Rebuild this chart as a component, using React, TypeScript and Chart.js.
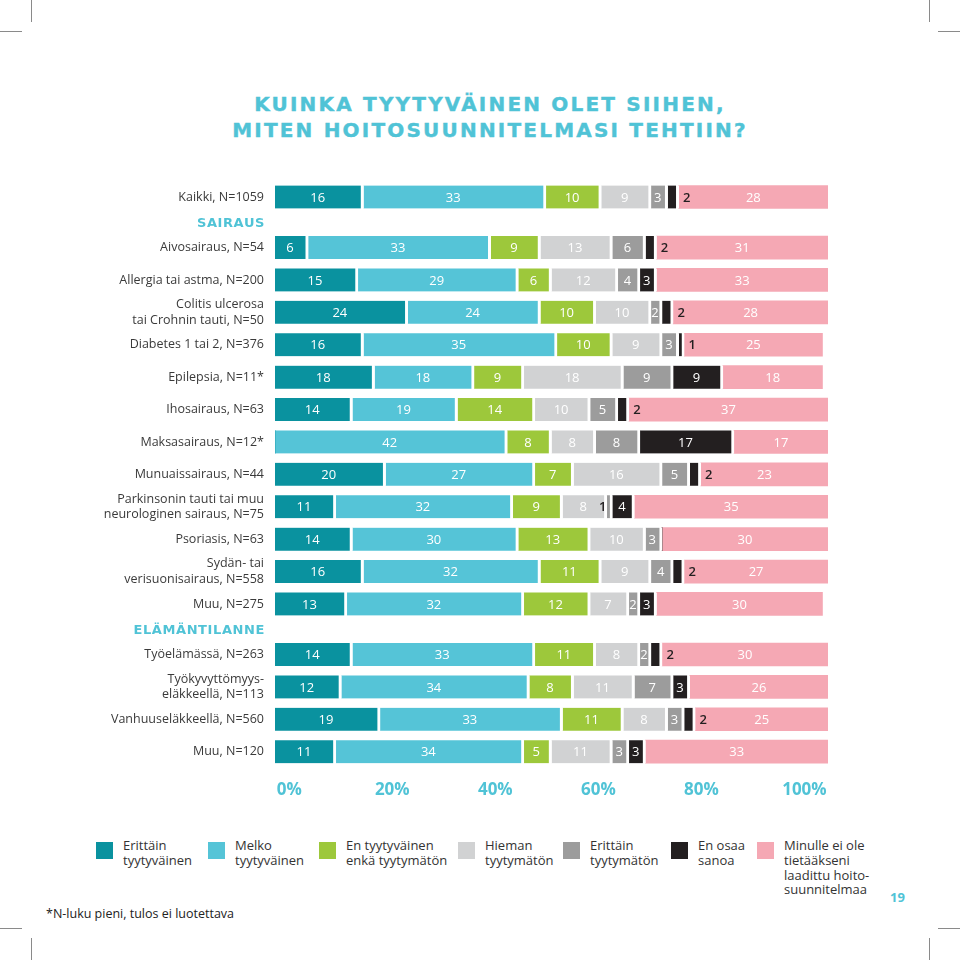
import React, { useEffect, useRef } from "react";
import { Chart, registerables } from "chart.js";

Chart.register(...registerables);

// ---------- DATA ----------
const categories = [
  "Kaikki, N=1059",
  "Aivosairaus, N=54",
  "Allergia tai astma, N=200",
  "Colitis ulcerosa\ntai Crohnin tauti, N=50",
  "Diabetes 1 tai 2, N=376",
  "Epilepsia, N=11*",
  "Ihosairaus, N=63",
  "Maksasairaus, N=12*",
  "Munuaissairaus, N=44",
  "Parkinsonin tauti tai muu\nneurologinen sairaus, N=75",
  "Psoriasis, N=63",
  "Sydän- tai\nverisuonisairaus, N=558",
  "Muu, N=275",
  "Työelämässä, N=263",
  "Työkyvyttömyys-\neläkkeellä, N=113",
  "Vanhuuseläkkeellä, N=560",
  "Muu, N=120",
];

// group headings: shown before the category with index `before`
const groupHeaders = [
  { before: 1, label: "SAIRAUS" },
  { before: 13, label: "ELÄMÄNTILANNE" },
];

const seriesNames = [
  "Erittäin\ntyytyväinen",
  "Melko\ntyytyväinen",
  "En tyytyväinen\nenkä tyytymätön",
  "Hieman\ntyytymätön",
  "Erittäin\ntyytymätön",
  "En osaa\nsanoa",
  "Minulle ei ole\ntietääkseni\nlaadittu hoito-\nsuunnitelmaa",
];

const erittainTyytyvainen = [16, 6, 15, 24, 16, 18, 14, 0, 20, 11, 14, 16, 13, 14, 12, 19, 11];
const melkoTyytyvainen = [33, 33, 29, 24, 35, 18, 19, 42, 27, 32, 30, 32, 32, 33, 34, 33, 34];
const eiTyytyvainenEikaTyytymaton = [10, 9, 6, 10, 10, 9, 14, 8, 7, 9, 13, 11, 12, 11, 8, 11, 5];
const hiemanTyytymaton = [9, 13, 12, 10, 9, 18, 10, 8, 16, 8, 10, 9, 7, 8, 11, 8, 11];
const erittainTyytymaton = [3, 6, 4, 2, 3, 9, 5, 8, 5, 1, 3, 4, 2, 2, 7, 3, 3];
const enOsaaSanoa = [2, 2, 3, 2, 1, 9, 2, 17, 2, 4, 0, 2, 3, 2, 3, 2, 3];
const eiSuunnitelmaa = [28, 31, 33, 28, 25, 18, 37, 17, 23, 35, 30, 27, 30, 30, 26, 25, 33];

const seriesValues = [
  erittainTyytyvainen,
  melkoTyytyvainen,
  eiTyytyvainenEikaTyytymaton,
  hiemanTyytymaton,
  erittainTyytymaton,
  enOsaaSanoa,
  eiSuunnitelmaa,
];

const xTickValues = [0, 20, 40, 60, 80, 100];

// ---------- STYLE ----------
const seriesColors = ["#0a929f", "#55c4d7", "#9dc83b", "#d1d2d3", "#9c9c9c", "#231f20", "#f5a8b4"];
// where a label goes when its segment is too small
const smallLabelRule: (null | { max: number; side: "left" | "right" })[] = [
  null, null, null, null, { max: 1, side: "left" }, { max: 2, side: "right" }, null,
];
const CYAN = "#50c3d6";
const TEXT = "#3a3a3a";
const FONT = "'Open Sans', 'DejaVu Sans', sans-serif";
const HEAVY = "'DejaVu Sans', 'Open Sans', sans-serif";
const GAP = 3;
const HEADER_GAP = 0.56;
const Y_LABEL_PAD = 11;
const LEGEND_X = [96, 208, 319, 458, 563, 671, 757];

// row positions on the (linear) category axis
const rowPositions = categories.map(
  (_, i) => i + HEADER_GAP * groupHeaders.filter((h) => h.before <= i).length
);
const headerPositions = groupHeaders.map((h) => {
  const prev = rowPositions[h.before - 1];
  const next = rowPositions[h.before];
  return prev + (next - prev) * 0.52;
});
const findRow = (v: number) =>
  rowPositions.reduce((best, p, i) => (Math.abs(p - v) < Math.abs(rowPositions[best] - v) ? i : best), 0);

const barLabels = {
  id: "barLabels",
  afterDatasetsDraw(chart: any) {
    const { ctx, chartArea } = chart;
    ctx.save();
    ctx.textAlign = "center";
    ctx.textBaseline = "middle";
    chart.data.datasets.forEach((ds: any, di: number) => {
      const meta = chart.getDatasetMeta(di);
      const last = di === chart.data.datasets.length - 1;
      meta.data.forEach((el: any, i: number) => {
        const v = seriesValues[di][i];
        if (!v) return;
        const { x, base, y } = el.getProps(["x", "base", "y"], true);
        const left = Math.min(x, base);
        const right = Math.min(Math.max(x, base), chartArea.right) - (last ? 0 : GAP);
        const rule = smallLabelRule[di];
        if (rule && v <= rule.max) {
          ctx.font = `600 13px ${FONT}`;
          ctx.fillStyle = "#231f20";
          const px = rule.side === "right" ? right + GAP + 8 : left - 4;
          ctx.fillText(String(v), px, y + 1);
        } else {
          ctx.font = `13px ${FONT}`;
          ctx.fillStyle = "#ffffff";
          ctx.fillText(String(v), (left + right) / 2, y + 1);
        }
      });
    });
    ctx.restore();
  },
};

const groupHeaderLabels = {
  id: "groupHeaderLabels",
  afterDraw(chart: any) {
    const { ctx } = chart;
    const ys = chart.scales.y;
    ctx.save();
    ctx.font = `bold 13px ${HEAVY}`;
    (ctx as any).letterSpacing = "0.6px";
    ctx.fillStyle = CYAN;
    ctx.textAlign = "right";
    ctx.textBaseline = "middle";
    headerPositions.forEach((p, i) => {
      ctx.fillText(groupHeaders[i].label, ys.right - Y_LABEL_PAD + 1, ys.getPixelForValue(p));
    });
    ctx.restore();
  },
};

export default function App() {
  const ref = useRef<HTMLCanvasElement>(null);

  useEffect(() => {
    const lastPos = rowPositions[rowPositions.length - 1];
    const chart = new Chart(ref.current as HTMLCanvasElement, {
      type: "bar",
      data: {
        datasets: seriesValues.map((vals, di) => ({
          label: seriesNames[di].replace(/\n/g, " "),
          data: vals.map((v, i) => ({ x: v, y: rowPositions[i] })),
          backgroundColor: seriesColors[di],
          borderColor: "#ffffff",
          borderWidth: di === seriesValues.length - 1 ? 0 : { left: 0, top: 0, bottom: 0, right: GAP },
          borderSkipped: false,
          barThickness: 23,
          stack: "all",
          clip: 0,
        })) as any,
      },
      options: {
        indexAxis: "y",
        animation: false,
        responsive: false,
        maintainAspectRatio: false,
        layout: { autoPadding: false, padding: { top: 10, right: 132, bottom: 0, left: 0 } },
        plugins: { legend: { display: false }, tooltip: { enabled: false } },
        scales: {
          x: { type: "linear", stacked: true, min: 0, max: 100, display: false },
          xt: {
            type: "linear",
            axis: "x",
            position: "bottom",
            display: true,
            offset: false,
            min: -2.76,
            max: 104.58,
            afterBuildTicks: (s: any) => {
              s.ticks = xTickValues.map((v) => ({ value: v }));
            },
            afterFit: (s: any) => {
              s.height = 40;
              s.paddingLeft = 0;
              s.paddingRight = 0;
              s.paddingTop = 0;
              s.paddingBottom = 0;
            },
            grid: { display: false, drawTicks: false },
            border: { display: false },
            ticks: {
              autoSkip: false,
              maxRotation: 0,
              padding: 10,
              color: CYAN,
              font: { family: FONT, size: 17, weight: "bold" },
              callback: (v: any) => `${v}%`,
            },
          },
          y: {
            type: "linear",
            reverse: true,
            offset: false,
            min: -0.525,
            max: lastPos + 0.565,
            afterBuildTicks: (s: any) => {
              s.ticks = rowPositions.map((v) => ({ value: v }));
            },
            afterFit: (s: any) => {
              s.width = 275;
              s.paddingTop = 0;
              s.paddingBottom = 0;
              s.paddingLeft = 0;
              s.paddingRight = 0;
            },
            grid: { display: false, drawTicks: false, offset: false },
            border: { display: false },
            ticks: {
              autoSkip: false,
              padding: Y_LABEL_PAD,
              color: TEXT,
              callback: (v: any) => categories[findRow(Number(v))].split("\n"),
              font: { family: FONT, size: 12.5, weight: "normal", lineHeight: 1.25 },
            },
          },
        },
      } as any,
      plugins: [barLabels, groupHeaderLabels],
    });
    return () => chart.destroy();
  }, []);

  const mark = (s: React.CSSProperties) => (
    <div style={{ position: "absolute", background: "#8a8a8a", ...s }} />
  );

  return (
    <div
      style={{
        position: "fixed",
        left: 0,
        top: 0,
        width: 960,
        height: 960,
        background: "#fff",
        overflow: "hidden",
        fontFamily: FONT,
        color: TEXT,
      }}
    >
      {mark({ left: 31, top: 0, width: 1, height: 22 })}
      {mark({ left: 0, top: 31, width: 22, height: 1 })}
      {mark({ left: 929, top: 0, width: 1, height: 22 })}
      {mark({ left: 938, top: 31, width: 22, height: 1 })}
      {mark({ left: 31, top: 938, width: 1, height: 22 })}
      {mark({ left: 0, top: 928, width: 22, height: 1 })}
      {mark({ left: 929, top: 938, width: 1, height: 22 })}
      {mark({ left: 938, top: 928, width: 22, height: 1 })}

      <div
        style={{
          position: "absolute",
          left: 490,
          top: 91,
          transform: "translateX(-50%)",
          whiteSpace: "nowrap",
          textAlign: "center",
          color: CYAN,
          fontFamily: HEAVY,
          fontWeight: 700,
          fontSize: 20,
          lineHeight: "26px",
          letterSpacing: "2.2px",
          WebkitTextStroke: `0.4px ${CYAN}`,
        }}
      >
        KUINKA TYYTYVÄINEN OLET SIIHEN,
        <br />
        MITEN HOITOSUUNNITELMASI TEHTIIN?
      </div>

      <canvas
        ref={ref}
        width={960}
        height={640}
        style={{ position: "absolute", left: 0, top: 170, width: 960, height: 640 }}
      />

      {seriesNames.map((name, i) => (
        <div key={i} style={{ position: "absolute", left: LEGEND_X[i], top: 842 }}>
          <div style={{ position: "absolute", left: 0, top: 0, width: 17, height: 17, background: seriesColors[i] }} />
          <div
            style={{
              position: "absolute",
              left: 27,
              top: -4,
              whiteSpace: "pre",
              fontSize: 13,
              lineHeight: "14.8px",
              color: "#333",
            }}
          >
            {name}
          </div>
        </div>
      ))}

      <div style={{ position: "absolute", left: 46, top: 905, fontSize: 12.5, color: "#222", whiteSpace: "nowrap" }}>
        *N-luku pieni, tulos ei luotettava
      </div>
      <div style={{ position: "absolute", left: 890, top: 888, fontSize: 13, fontWeight: 700, color: CYAN }}>19</div>
    </div>
  );
}
